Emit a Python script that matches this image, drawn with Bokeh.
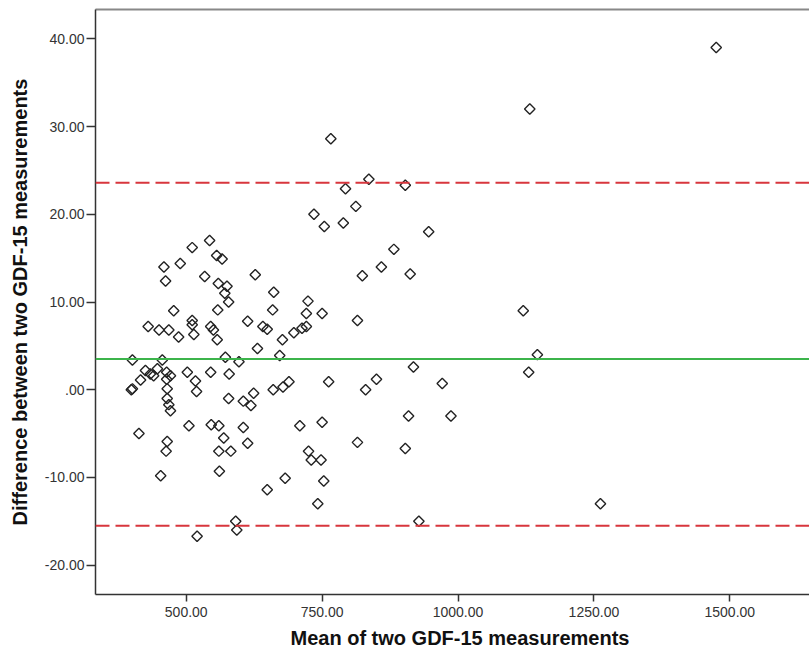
import numpy as np
from bokeh.plotting import figure
from bokeh.models import (Span, FixedTicker, CustomJSTickFormatter, LinearAxis,
                          Range1d, ColumnDataSource, Title)
from bokeh.embed import file_html
from bokeh.resources import INLINE

# ---- data ----
mean_gdf = [543, 511, 459, 489, 462, 534, 556, 566, 559, 575,
            571, 578, 558, 477, 627, 661, 724, 659, 721, 750,
            815, 613, 511, 511, 430, 450, 468, 545, 550, 641,
            649, 698, 713, 721, 486, 514, 557, 677, 631, 401,
            456, 572, 597, 672, 425, 434, 440, 447, 416, 464,
            471, 464, 502, 517, 545, 579, 399, 401, 465, 519,
            660, 678, 689, 762, 830, 850, 624, 578, 605, 619,
            465, 468, 471, 413, 505, 546, 560, 605, 569, 613,
            465, 463, 560, 582, 709, 750, 725, 730, 748, 753,
            682, 649, 742, 815, 453, 561, 591, 593, 520, 766,
            836, 793, 812, 735, 754, 789, 882, 859, 824, 903,
            946, 912, 1132, 1475, 1120, 1146, 918, 1130, 971, 909,
            987, 903, 1262, 928]
diff_gdf = [17.0, 16.2, 14.0, 14.4, 12.4, 12.9, 15.3, 14.9, 12.1, 11.8,
            11.0, 10.0, 9.1, 9.0, 13.1, 11.1, 10.1, 9.1, 8.7, 8.7,
            7.9, 7.8, 7.9, 7.4, 7.2, 6.8, 6.8, 7.2, 6.8, 7.2,
            6.9, 6.5, 7.0, 7.2, 6.0, 6.3, 5.7, 5.7, 4.7, 3.4,
            3.4, 3.7, 3.2, 3.9, 2.2, 1.8, 1.6, 2.4, 1.1, 2.0,
            1.6, 1.2, 2.0, 1.0, 2.0, 1.8, 0.0, 0.1, 0.1, -0.2,
            0.0, 0.3, 0.9, 0.9, 0.0, 1.2, -0.4, -1.0, -1.3, -1.8,
            -1.0, -1.7, -2.4, -5.0, -4.1, -4.0, -4.1, -4.3, -5.5, -6.1,
            -5.9, -7.0, -7.0, -7.0, -4.1, -3.7, -7.0, -8.0, -8.0, -10.4,
            -10.1, -11.4, -13.0, -6.0, -9.8, -9.3, -15.0, -16.0, -16.7, 28.6,
            24.0, 22.9, 20.9, 20.0, 18.6, 19.0, 16.0, 14.0, 13.0, 23.3,
            18.0, 13.2, 32.0, 39.0, 9.0, 4.0, 2.6, 2.0, 0.7, -3.0,
            -3.0, -6.7, -13.0, -15.0]
mean_difference = 3.5
upper_limit = 23.6
lower_limit = -15.5
x_ticks = [500, 750, 1000, 1250, 1500]
y_ticks = [-20, -10, 0, 10, 20, 30, 40]
x_title = "Mean of two GDF-15 measurements"
y_title = "Difference between two GDF-15 measurements"

X0, X1 = 333.1, 1646.6
Y0, Y1 = -23.34, 43.34

src = ColumnDataSource(data=dict(x=mean_gdf, y=diff_gdf))

p = figure(width=809, height=657, output_backend="svg", toolbar_location=None,
           x_range=Range1d(X0, X1), y_range=Range1d(Y0, Y1),
           min_border_left=95, min_border_right=0, min_border_top=9,
           min_border_bottom=63)
p.background_fill_color = "white"
p.border_fill_color = "white"
p.outline_line_color = None
p.grid.visible = False

fmt = CustomJSTickFormatter(code="return tick == 0 ? '.00' : tick.toFixed(2);")

for ax in (p.xaxis[0], p.yaxis[0]):
    ax.axis_line_color = "#333333"
    ax.axis_line_width = 1.5
    ax.major_tick_line_color = "#333333"
    ax.major_tick_line_width = 1.5
    ax.major_tick_in = 0
    ax.minor_tick_line_color = None
    ax.major_label_text_font = "Liberation Sans"
    ax.major_label_text_font_size = "14px"
    ax.major_label_text_color = "#333333"
    ax.axis_label_text_font = "Liberation Sans"
    ax.axis_label_text_font_size = "20px"
    ax.axis_label_text_font_style = "bold"
    ax.axis_label_text_color = "#111111"
    ax.formatter = fmt

p.xaxis[0].ticker = FixedTicker(ticks=x_ticks)
p.yaxis[0].ticker = FixedTicker(ticks=y_ticks)
p.xaxis[0].major_tick_out = 7
p.yaxis[0].major_tick_out = 9
p.xaxis[0].major_label_standoff = 5
p.yaxis[0].major_label_standoff = 2
p.yaxis[0].axis_label = y_title
p.yaxis[0].axis_label_standoff = 11

# x-axis title as a title panel below the axis
p.add_layout(Title(text=x_title, align="left", offset=195, standoff=11,
                   vertical_align="bottom",
                   text_font="Liberation Sans", text_font_size="20px",
                   text_font_style="bold", text_color="#111111"), "below")

# top border of the plot area
top_axis = LinearAxis(ticker=FixedTicker(ticks=[]), axis_line_color="#888888",
                      axis_line_width=2, major_tick_line_color=None,
                      minor_tick_line_color=None, major_label_text_font_size="0px")
p.add_layout(top_axis, "above")

p.add_layout(Span(location=upper_limit, dimension="width", line_color="#d8363d",
                  line_width=2, line_dash="14 6"))
p.add_layout(Span(location=lower_limit, dimension="width", line_color="#d8363d",
                  line_width=2, line_dash="14 6"))
p.add_layout(Span(location=mean_difference, dimension="width", line_color="#3cb44b",
                  line_width=2))

p.scatter("x", "y", source=src, marker="square", angle=np.pi / 4, size=7.4,
          fill_color=None, line_color="#222222", line_width=1.4)

open("out.html", "w").write(file_html(p, INLINE))
